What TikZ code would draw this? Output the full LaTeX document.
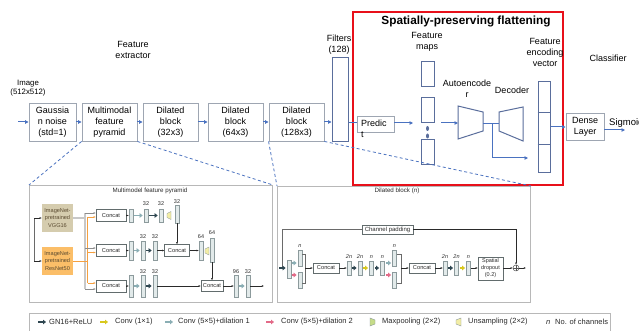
\documentclass[tikz,border=0pt]{standalone}
\usepackage{fontspec}
\setmainfont{Liberation Sans}
\usetikzlibrary{arrows.meta}
\newcommand\fsz[2]{\fontsize{#1pt}{#2pt}\selectfont}
\definecolor{boxgray}{HTML}{9EA6B2}
\definecolor{flowblue}{HTML}{4A72C0}
\definecolor{mapblue}{HTML}{5A6E9C}
\definecolor{frame}{HTML}{B8B8B8}
\definecolor{redframe}{HTML}{E8101A}
\definecolor{gnc}{HTML}{2E4650}
\definecolor{cone}{HTML}{D8C81C}
\definecolor{dilone}{HTML}{8AAEB4}
\definecolor{diltwo}{HTML}{E36A88}
\definecolor{barfill}{HTML}{E2EAEA}
\definecolor{barline}{HTML}{8C9A9C}
\definecolor{vggfill}{HTML}{D5CCAE}
\definecolor{resfill}{HTML}{FBBE68}
\definecolor{orangeline}{HTML}{F5A040}
\definecolor{grayline}{HTML}{C8C8C8}
\definecolor{upfill}{HTML}{F2EDA6}
\definecolor{mpfill}{HTML}{C6DC88}
\definecolor{smalltxt}{HTML}{2A2A2A}
\definecolor{boxtxt}{HTML}{5A4A30}
\begin{document}
\begin{tikzpicture}[x=1pt,y=-1pt,
  topbox/.style={draw=boxgray, line width=0.9pt, align=center, inner sep=0pt, font=\fsz{9}{11}},
  bluebox/.style={draw=mapblue, line width=1pt, inner sep=0pt},
  flow/.style={flowblue, line width=1pt, -{Triangle[length=3.5pt,width=3.5pt]}},
  link/.style={flowblue, line width=1pt},
  zoomline/.style={flowblue, line width=0.8pt, dash pattern=on 3pt off 2.5pt},
  lbl/.style={align=center, inner sep=0pt, font=\fsz{9}{11}},
  panel/.style={draw=frame, line width=1pt, inner sep=0pt},
  bar/.style={draw=barline, fill=barfill, line width=0.4pt, inner sep=0pt, minimum width=4pt},
  cc/.style={draw=barline!70!black, fill=white, line width=0.4pt, inner sep=0pt, text=smalltxt, font=\fsz{5.7}{7}},
  sarr/.style={smalltxt, line width=0.45pt, -{Latex[length=2.2pt,width=2pt]}},
  thinl/.style={smalltxt!70, line width=0.45pt},
  fat/.style={line width=1.6pt, -{Triangle[length=3pt,width=4.6pt]}, shorten <=1.2pt, shorten >=1.2pt},
  num/.style={inner sep=0pt, text=smalltxt, font=\fsz{5.5}{6}},
  legtxt/.style={anchor=west, inner sep=0pt, text=smalltxt, font=\fsz{7.5}{8}},
  icon/.style={draw=barline, line width=0.4pt},
]
\fill[white] (0,0) rectangle (639,331);
\useasboundingbox (0,0) rectangle (639,331);

% ---------- main pipeline ----------
\node[lbl, font=\fsz{7.8}{9}] (imglbl) at (28,88) {Image\\(512x512)};
\node[lbl] (felbl) at (133,50) {Feature\\extractor};
\node[topbox, minimum width=47pt, minimum height=38pt] (gauss) at (52.5,122) {Gaussia\\n noise\\(std=1)};
\node[topbox, minimum width=55pt, minimum height=38pt] (pyr) at (109.5,122) {Multimodal\\feature\\pyramid};
\node[topbox, minimum width=55pt, minimum height=38pt] (d32) at (170.5,122) {Dilated\\block\\(32x3)};
\node[topbox, minimum width=55pt, minimum height=38pt] (d64) at (235.5,122) {Dilated\\block\\(64x3)};
\node[topbox, minimum width=55pt, minimum height=38pt] (d128) at (296.5,122) {Dilated\\block\\(128x3)};
\coordinate (inA) at (18,122);
\draw[flow] (inA) -- (gauss.west);
\draw[flow] (gauss) -- (pyr);
\draw[flow] (pyr) -- (d32);
\draw[flow] (d32) -- (d64);
\draw[flow] (d64) -- (d128);

\node[lbl] (filtlbl) at (339,44.5) {Filters\\(128)};
\node[bluebox, minimum width=16pt, minimum height=84pt] (filt) at (340,100) {};
\draw[flow] (d128.east) -- (d128.east -| filt.west);

% spatially-preserving flattening
\draw[redframe, line width=2pt] (353,12) rectangle (563,185);
\node[font=\bfseries\fsz{11.8}{13}, inner sep=0pt] (ttl) at (466,21) {Spatially-preserving flattening};
\node[topbox, minimum width=37pt, minimum height=16pt] (pred) at (375.5,124) {};
\node[anchor=north west, align=left, inner sep=0pt, font=\fsz{9}{11}] (predtxt) at (361,120) {Predic\\t};
\draw[link] (filt.east |- 0,123) -- (pred.west |- 0,123);
\coordinate (fmin) at (413,123);
\draw[flow] (pred.east |- 0,123) -- (fmin);

\node[lbl] (fmlbl) at (427,41.5) {Feature\\maps};
\node[bluebox, minimum width=13pt, minimum height=25pt] (fma) at (427.5,74.5) {};
\node[bluebox, minimum width=13pt, minimum height=25pt] (fmb) at (427.5,110.5) {};
\node[bluebox, minimum width=13pt, minimum height=25pt] (fmc) at (427.5,152.5) {};
\fill[mapblue] (427.5,128.5) ellipse [x radius=1.5pt, y radius=2.5pt];
\fill[mapblue] (427.5,136) ellipse [x radius=1.5pt, y radius=2.5pt];

\coordinate (fmout) at (441,123);
\coordinate (encL) at (458,123);
\draw[flow] (fmout) -- (encL);
\node[lbl] (enclbl) at (467,88.5) {Autoencode\\r};
\draw[mapblue, line width=1pt] (458,106) -- (483,112) -- (483,131) -- (458,139) -- cycle;
\node[lbl] (declbl) at (512,90) {Decoder};
\draw[mapblue, line width=1pt] (499,112) -- (523,107) -- (523,141) -- (499,131) -- cycle;
\coordinate (encR) at (483,124);
\coordinate (decL) at (499,124);
\coordinate (br) at (492,124);
\coordinate (vin) at (528,158);
\draw[link] (encR) -- (decL);
\draw[flow] (br) |- (vin);

\node[lbl] (veclbl) at (545,52) {Feature\\encoding\\vector};
\node[bluebox, minimum width=12pt, minimum height=91pt] (vec) at (544,127.5) {};
\draw[mapblue, line width=1pt] (vec.west |- 0,113) -- (vec.east |- 0,113);
\draw[mapblue, line width=1pt] (vec.west |- 0,145) -- (vec.east |- 0,145);

\node[lbl] (clslbl) at (608,58) {Classifier};
\node[topbox, minimum width=38pt, minimum height=27pt] (dense) at (585,126.5) {Dense\\Layer};
\draw[flow] (vec.east |- 0,127) -- (dense.west |- 0,127);
\node[anchor=west, inner sep=0pt, font=\fsz{9.5}{11}] (sig) at (609,123) {Sigmoid};
\coordinate (sgB) at (625,130);
\draw[flow] (dense.east |- 0,130) -- (sgB);

% ---------- detail panels ----------
\node[panel, minimum width=243pt, minimum height=117pt, anchor=north west] (mfp) at (29,185) {};
\node[panel, minimum width=253pt, minimum height=116pt, anchor=north west] (dbp) at (277,186) {};
\draw[zoomline] (pyr.south west) -- (mfp.north west);
\draw[zoomline] (pyr.south east) -- (mfp.north east);
\draw[zoomline] (d128.south west) -- (dbp.north west);
\draw[zoomline] (d128.south east) -- (dbp.north east);

% multimodel feature pyramid
\node[num, font=\fsz{6.2}{7}] (mfpt) at (150,191) {Multimodel feature pyramid};
\node[fill=vggfill, minimum width=31pt, minimum height=28pt, inner sep=0pt, align=center, text=boxtxt, font=\fsz{5.6}{7.2}] (vgg) at (57.5,218) {ImageNet-\\pretrained\\VGG16};
\node[fill=resfill, minimum width=31pt, minimum height=28pt, inner sep=0pt, align=center, text=boxtxt, font=\fsz{5.6}{7.2}] (res) at (57.5,261) {ImageNet-\\pretrained\\ResNet50};
\coordinate (spa) at (34,218);
\coordinate (spb) at (34,261);
\draw[thinl] (spa) -- (spb);
\draw[sarr] (spa) -- (vgg.west);
\draw[sarr] (spb) -- (res.west);

\node[cc, minimum width=30pt, minimum height=12pt] (ca) at (111,215.5) {Concat};
\node[cc, minimum width=30pt, minimum height=12pt] (cb) at (111,250.5) {Concat};
\node[cc, minimum width=30pt, minimum height=12pt] (cc3) at (111,286) {Concat};

\draw[grayline, line width=1.1pt] (vgg.east) -- (85,218);
\draw[grayline, line width=1.1pt] (85,213) -- (85,289);
\draw[orangeline, line width=0.8pt] (res.east) -- (87.5,261);
\draw[orangeline, line width=0.8pt] (87.5,217) -- (87.5,283);
\begin{scope}[line width=0.5pt, -{Latex[length=2.2pt,width=2pt]}]
\draw[grayline!70!black] (85,213) -- (ca.west |- 0,213);
\draw[orangeline] (87.5,217) -- (ca.west |- 0,217);
\draw[grayline!70!black] (85,248) -- (cb.west |- 0,248);
\draw[orangeline] (87.5,252.5) -- (cb.west |- 0,252.5);
\draw[orangeline] (87.5,283) -- (cc3.west |- 0,283);
\draw[grayline!70!black] (85,289) -- (cc3.west |- 0,289);
\end{scope}

% row 1
\node[bar, minimum height=13pt] (a1) at (131,215.5) {};
\node[bar, minimum height=13pt] (a2) at (146,215.5) {};
\node[bar, minimum height=13pt] (a3) at (161,215.5) {};
\node[bar, minimum height=18pt] (a4) at (177,214) {};
\node[num] (la2) at (146,204) {32};
\node[num] (la3) at (161,204) {32};
\node[num] (la4) at (177,202) {32};
\draw[sarr] (ca) -- (a1);
\draw[fat, dilone] (a1) -- (a2);
\draw[fat, gnc] (a2) -- (a3);
\draw[icon, fill=upfill] (167,213.5) -- (171,211.5) -- (171,219.5) -- (167,217.5) -- cycle;

% row 2
\node[bar, minimum height=19pt] (b1) at (131,250.5) {};
\node[bar, minimum height=19pt] (b2) at (143,250.5) {};
\node[bar, minimum height=19pt] (b3) at (155,250.5) {};
\node[cc, minimum width=25pt, minimum height=12pt] (bm) at (177,250.5) {Concat};
\node[bar, minimum height=19pt] (b4) at (201,250.5) {};
\node[bar, minimum height=24pt] (b5) at (212,250) {};
\node[num] (lb2) at (143,237) {32};
\node[num] (lb3) at (155,237) {32};
\node[num] (lb4) at (201,237) {64};
\node[num] (lb5) at (212,233) {64};
\draw[sarr] (cb) -- (b1);
\draw[fat, dilone] (b1) -- (b2);
\draw[fat, gnc] (b2) -- (b3);
\draw[sarr] (b3) -- (bm);
\draw[sarr] (bm) -- (b4);
\draw[icon, fill=upfill] (205,249) -- (209,247) -- (209,255) -- (205,253) -- cycle;
\draw[sarr] (a4.south) -- (a4.south |- bm.north);

% row 3
\node[bar, minimum height=22pt] (c1) at (131,286) {};
\node[bar, minimum height=22pt] (c2) at (143,286) {};
\node[bar, minimum height=22pt] (c3) at (155,286) {};
\node[cc, minimum width=22pt, minimum height=11pt] (cm) at (212,286) {Concat};
\node[bar, minimum height=22pt] (c4) at (236,286) {};
\node[bar, minimum height=22pt] (c5) at (248,286) {};
\node[num] (lc2) at (143,271.5) {32};
\node[num] (lc3) at (155,271.5) {32};
\node[num] (lc4) at (236,271.5) {96};
\node[num] (lc5) at (248,271.5) {32};
\coordinate (mfpout) at (264,286);
\draw[sarr] (cc3) -- (c1);
\draw[fat, dilone] (c1) -- (c2);
\draw[fat, gnc] (c2) -- (c3);
\draw[sarr] (c3) -- (cm);
\draw[sarr] (cm) -- (c4);
\draw[fat, dilone] (c4) -- (c5);
\draw[sarr] (c5) -- (mfpout);
\draw[sarr] (b5.south) -- (b5.south |- cm.north);

% dilated block (n)
\node[num, font=\fsz{6.2}{7}] (dbpt) at (397,191) {Dilated block (\textit{n})};
\node[cc, minimum width=51pt, minimum height=9pt, font=\fsz{6}{7}] (cp) at (387.5,229.5) {Channel padding};
\coordinate (jin) at (282,268);
\coordinate (din) at (279,268);
\draw[thinl] (cp.west) -| (jin);

\node[bar, minimum height=18pt] (p1) at (289,269) {};
\node[bar, minimum height=16pt] (p2) at (300,258) {};
\node[bar, minimum height=16pt] (p3) at (300,280) {};
\node[num, font=\itshape\fsz{5.5}{6}] (lp2) at (300,246) {n};
\draw[fat, gnc, shorten <=0pt] (din) -- (p1.west |- 0,268);
\draw[fat, dilone, line width=1.3pt] (p1.east |- 0,263) -- (p2.west |- 0,263);
\draw[fat, diltwo, line width=1.3pt] (p1.east |- 0,275) -- (p3.west |- 0,275);
\coordinate (mA) at (305,268);
\draw[thinl] (p2.east |- 0,254) -- (mA |- 0,254) -- (mA |- 0,283) -- (p3.east |- 0,283);
\node[cc, minimum width=26pt, minimum height=10pt] (qa) at (326,268) {Concat};
\draw[sarr] (mA) -- (qa);

\node[bar, minimum height=14pt] (pc) at (349,268) {};
\node[bar, minimum height=14pt] (pd) at (360,268) {};
\node[bar, minimum height=14pt] (pe) at (371.5,268) {};
\node[bar, minimum height=14pt] (pf) at (382.5,268) {};
\node[num, font=\itshape\fsz{5.5}{6}] (lpc) at (349,257) {2n};
\node[num, font=\itshape\fsz{5.5}{6}] (lpd) at (360,257) {2n};
\node[num, font=\itshape\fsz{5.5}{6}] (lpe) at (371.5,257) {n};
\node[num, font=\itshape\fsz{5.5}{6}] (lpf) at (382.5,257) {n};
\draw[sarr] (qa) -- (pc);
\draw[fat, gnc] (pc) -- (pd);
\draw[fat, cone] (pd) -- (pe);
\draw[fat, gnc] (pe) -- (pf);

\node[bar, minimum height=16pt] (pg) at (394.5,258) {};
\node[bar, minimum height=16pt] (ph) at (394.5,280) {};
\node[num, font=\itshape\fsz{5.5}{6}] (lpg) at (394.5,246) {n};
\draw[fat, dilone, line width=1.3pt] (pf.east |- 0,263) -- (pg.west |- 0,263);
\draw[fat, diltwo, line width=1.3pt] (pf.east |- 0,275) -- (ph.west |- 0,275);
\coordinate (mB) at (401,268);
\draw[thinl] (pg.east |- 0,254) -- (mB |- 0,254) -- (mB |- 0,283) -- (ph.east |- 0,283);
\node[cc, minimum width=26pt, minimum height=10pt] (qb) at (422,268) {Concat};
\draw[sarr] (mB) -- (qb);

\node[bar, minimum height=14pt] (pi) at (445,268) {};
\node[bar, minimum height=14pt] (pj) at (456.5,268) {};
\node[bar, minimum height=14pt] (pk) at (468.5,268) {};
\node[num, font=\itshape\fsz{5.5}{6}] (lpi) at (445,257) {2n};
\node[num, font=\itshape\fsz{5.5}{6}] (lpj) at (456.5,257) {2n};
\node[num, font=\itshape\fsz{5.5}{6}] (lpk) at (468.5,257) {n};
\draw[sarr] (qb) -- (pi);
\draw[fat, gnc] (pi) -- (pj);
\draw[fat, cone] (pj) -- (pk);

\node[cc, minimum width=25pt, minimum height=23pt, align=center, font=\fsz{5.5}{7}] (sd) at (490.5,268.5) {Spatial\\dropout\\(0.2)};
\draw[sarr] (pk) -- (sd.west |- 0,268);
\node[circle, draw=smalltxt!80, line width=0.45pt, inner sep=0pt, minimum size=6pt] (plus) at (516,268) {};
\draw[smalltxt!80, line width=0.45pt] (plus.north) -- (plus.south) (plus.west) -- (plus.east);
\draw[sarr] (sd.east |- 0,268) -- (plus.west);
\draw[sarr] (cp.east) -| (plus.north);
\coordinate (pout) at (526,268);
\draw[sarr] (plus.east) -- (pout);

% ---------- legend ----------
\node[panel, line width=0.8pt, minimum width=581pt, minimum height=20pt, anchor=north west] (leg) at (29,313) {};
\coordinate (lgA) at (38,322);  \coordinate (lgB) at (46,322);
\draw[fat, gnc, shorten <=0pt, shorten >=0pt] (lgA) -- (lgB);
\node[legtxt] (lgt1) at (49,322) {GN16+ReLU};
\coordinate (lyA) at (100,322);  \coordinate (lyB) at (108,322);
\draw[fat, cone, shorten <=0pt, shorten >=0pt] (lyA) -- (lyB);
\node[legtxt] (lgt2) at (115,322) {Conv (1×1)};
\coordinate (ltA) at (165,322); \coordinate (ltB) at (173,322);
\draw[fat, dilone, shorten <=0pt, shorten >=0pt] (ltA) -- (ltB);
\node[legtxt] (lgt3) at (178,322) {Conv (5×5)+dilation 1};
\coordinate (lpA) at (266,322); \coordinate (lpB) at (274,322);
\draw[fat, diltwo, shorten <=0pt, shorten >=0pt] (lpA) -- (lpB);
\node[legtxt] (lgt4) at (281,322) {Conv (5×5)+dilation 2};
\draw[icon, fill=mpfill] (370,318) -- (375,320) -- (375,324) -- (370,326) -- cycle;
\node[legtxt] (lgt5) at (382,322) {Maxpooling (2×2)};
\draw[icon, fill=upfill] (456,320) -- (461,318) -- (461,326) -- (456,324) -- cycle;
\node[legtxt] (lgt6) at (468,322) {Unsampling (2×2)};
\node[legtxt, font=\itshape\fsz{7.5}{8}] (lgn) at (546,322) {n};
\node[legtxt] (lgt7) at (555,322) {No. of channels};
\end{tikzpicture}
\end{document}
